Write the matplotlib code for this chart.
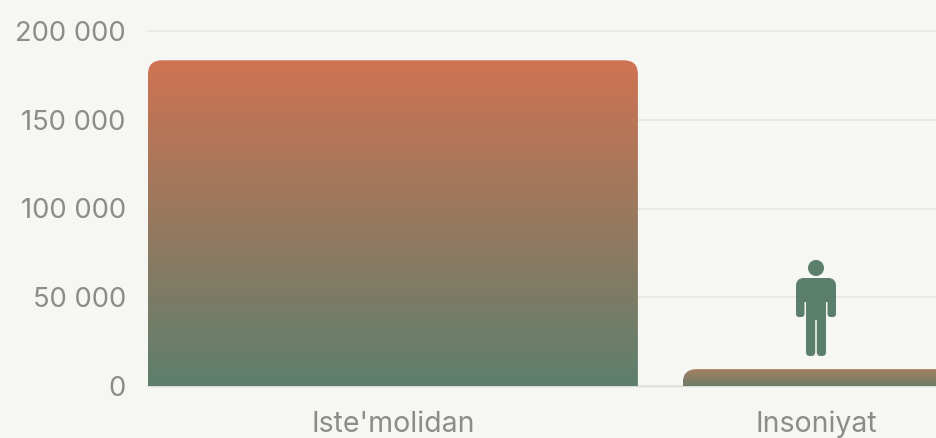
import numpy as np
import matplotlib
matplotlib.use("Agg")
import matplotlib.pyplot as plt
from matplotlib.colors import LinearSegmentedColormap
from matplotlib.patches import FancyBboxPatch, Circle
from matplotlib.transforms import Affine2D

categories = ["Iste'molidan", "Insoniyat"]
values = [183500, 9500]
bar_widths = [1.158, 0.63]
bar_tops = ["#cf7352", "#a67f62"]
bar_bottoms = ["#5d7f6d", "#6c7c66"]
y_ticks = [0, 50000, 100000, 150000, 200000]
y_labels = ["0", "50 000", "100 000", "150 000", "200 000"]

BG = "#f6f6f2"
GRID = "#e6e6e0"
TEXT = "#8b8d8a"
GREEN = "#5b7f6c"

W, H = 937, 438
plt.rcParams["font.family"] = ["Inter", "DejaVu Sans"]

fig = plt.figure(figsize=(W / 100, H / 100), dpi=100, facecolor=BG)
ax = fig.add_axes([148 / W, (H - 386) / H, (W - 148) / W, 355 / H], facecolor=BG)

x = np.arange(len(categories))
xlim = (-0.579, 1.286)
ylim = (0, 200000)

# size of one pixel in data units, for the corner radius
px_x = (xlim[1] - xlim[0]) / (W - 148)
px_y = (ylim[1] - ylim[0]) / 355
radius = 14

grad = np.linspace(0, 1, 256).reshape(-1, 1)

for xi, v, w, c0, c1 in zip(x, values, bar_widths, bar_tops, bar_bottoms):
    left = xi - w / 2
    cmap = LinearSegmentedColormap.from_list("bar", [c0, c1])
    im = ax.imshow(grad, cmap=cmap, aspect="auto", interpolation="bilinear",
                   extent=(left, left + w, 0, v), zorder=3)
    # box runs past the baseline so only the top corners look rounded
    box = FancyBboxPatch((left, -radius * px_y), w, v + radius * px_y,
                         boxstyle="round,pad=0,rounding_size=%f" % (radius * px_x),
                         mutation_aspect=px_y / px_x,
                         transform=ax.transData, fc="none", ec="none")
    ax.add_patch(box)
    im.set_clip_path(box)

ax.set_xlim(*xlim)
ax.set_ylim(*ylim)

ax.set_yticks(y_ticks)
ax.set_yticklabels(y_labels)
ax.set_xticks(x)
ax.set_xticklabels(categories)
ax.tick_params(axis="y", length=0, pad=16, labelsize=19.7, labelcolor=TEXT)
ax.tick_params(axis="x", length=0, pad=18, labelsize=20.5, labelcolor=TEXT)
ax.grid(axis="y", color=GRID, lw=1.1, zorder=0, clip_on=False)
for line in ax.get_ygridlines():
    line.set_clip_on(False)
ax.set_axisbelow(True)
for s in ["top", "right", "left"]:
    ax.spines[s].set_visible(False)
ax.spines["bottom"].set_color("#dcdcd6")
ax.spines["bottom"].set_linewidth(1.0)

# person icon above the second bar, drawn in pixels around its centre
cx = ax.transData.transform((x[1], 0))[0]
icon = Affine2D().scale(1, -1).translate(cx, H - 268)


def piece(x0, y0, w, h, r):
    ax.add_patch(FancyBboxPatch((x0, y0), w, h, boxstyle="round,pad=0,rounding_size=%f" % r,
                                transform=icon, fc=GREEN, ec="none", zorder=4, clip_on=False))


ax.add_patch(Circle((0, 0), 8, transform=icon, fc=GREEN, ec="none", zorder=4, clip_on=False))
piece(-20, 10, 40, 24, 8)    # shoulders
piece(-10, 20, 20, 32, 1)    # torso
piece(-20, 20, 8.5, 29, 3)   # left arm
piece(11.5, 20, 8.5, 29, 3)  # right arm
piece(-10, 45, 9.2, 43, 4)   # legs
piece(0.8, 45, 9.2, 43, 4)

fig.savefig("out.png", dpi=100, facecolor=BG)
